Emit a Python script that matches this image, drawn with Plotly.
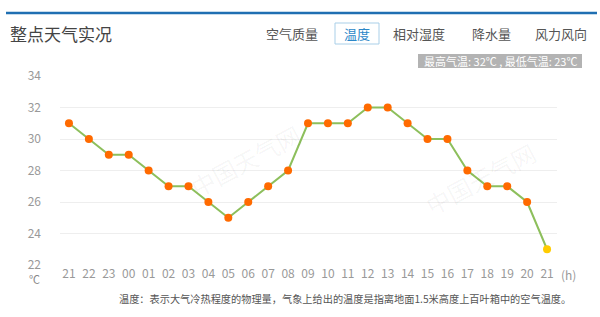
import plotly.graph_objects as go

hours = ["21", "22", "23", "00", "01", "02", "03", "04", "05", "06", "07", "08",
         "09", "10", "11", "12", "13", "14", "15", "16", "17", "18", "19", "20", "21"]
temps = [31, 30, 29, 29, 28, 27, 27, 26, 25, 26, 27, 28,
         31, 31, 31, 32, 32, 31, 30, 30, 28, 27, 27, 26, 23]
y_ticks = [22, 24, 26, 28, 30, 32, 34]
tabs = ["空气质量", "温度", "相对湿度", "降水量", "风力风向"]
title_text = "整点天气实况"
summary_text = "最高气温: 32℃ , 最低气温: 23℃"
note_text = "温度：表示大气冷热程度的物理量，气象上给出的温度是指离地面1.5米高度上百叶箱中的空气温度。"

W, H = 600, 317
L, R, T, B = 60, 557, 76, 265
FONT = "Noto Sans CJK SC"

def px(x):
    return (x - L) / (R - L)

def py(y):
    return (B - y) / (B - T)

xs = list(range(len(hours)))
colors = ["#ff6a00"] * (len(temps) - 1) + ["#ffcc00"]

fig = go.Figure()
fig.add_trace(go.Scatter(
    x=xs, y=temps, mode="lines+markers",
    line=dict(color="#8dbf5c", width=2),
    marker=dict(color=colors, size=8, line=dict(width=0)),
    hoverinfo="skip", showlegend=False,
))

annotations = []
# title
annotations.append(dict(x=px(8), y=py(33), xref="paper", yref="paper", text=title_text,
                        showarrow=False, xanchor="left", yanchor="middle",
                        font=dict(family=FONT, size=17, color="#444444")))
# tabs
tab_centers = [292, 357, 419, 491, 561]
for t, cx in zip(tabs, tab_centers):
    annotations.append(dict(x=px(cx), y=py(33.5), xref="paper", yref="paper", text=t,
                            showarrow=False, xanchor="center", yanchor="middle",
                            font=dict(family=FONT, size=13,
                                      color="#2b87c8" if t == "温度" else "#555555")))
# summary
annotations.append(dict(x=px(500), y=py(61), xref="paper", yref="paper", text=summary_text,
                        showarrow=False, xanchor="center", yanchor="middle",
                        font=dict(family=FONT, size=11, color="#ffffff")))
# unit labels
annotations.append(dict(x=px(34), y=py(279), xref="paper", yref="paper", text="℃",
                        showarrow=False, xanchor="center", yanchor="middle",
                        font=dict(family=FONT, size=11, color="#888888")))
annotations.append(dict(x=px(568), y=py(274), xref="paper", yref="paper", text="(h)",
                        showarrow=False, xanchor="center", yanchor="middle",
                        font=dict(family=FONT, size=12, color="#999999")))
# note
annotations.append(dict(x=px(117), y=py(298), xref="paper", yref="paper", text=note_text,
                        showarrow=False, xanchor="left", yanchor="middle",
                        font=dict(family=FONT, size=10.2, color="#555555")))
# watermarks
for wx, wy in [(245, 160), (480, 178)]:
    annotations.append(dict(x=px(wx), y=py(wy), xref="paper", yref="paper", text="中国天气网",
                            showarrow=False, textangle=-28, xanchor="center", yanchor="middle",
                            font=dict(family=FONT, size=24, color="rgba(0,0,0,0.045)")))

shapes = [
    dict(type="line", xref="paper", yref="paper", x0=px(6), x1=px(597), y0=py(13), y1=py(13),
         line=dict(color="#1f6fb2", width=2.5)),
    dict(type="rect", xref="paper", yref="paper", x0=px(335), x1=px(379), y0=py(23), y1=py(44),
         line=dict(color="#a9cfe8", width=1), fillcolor="rgba(0,0,0,0)"),
    dict(type="rect", xref="paper", yref="paper", x0=px(418), x1=px(582), y0=py(54), y1=py(68),
         line=dict(width=0), fillcolor="#b3b3b3", layer="below"),
]

fig.update_layout(
    width=W, height=H,
    margin=dict(l=L, r=W - R, t=T, b=H - B),
    paper_bgcolor="#ffffff", plot_bgcolor="#ffffff",
    annotations=annotations, shapes=shapes,
    xaxis=dict(range=[-0.45, 24.5], tickmode="array", tickvals=xs, ticktext=hours,
               showgrid=False, zeroline=False, showline=False, ticks="",
               tickfont=dict(family=FONT, size=12, color="#999999"), fixedrange=True),
    yaxis=dict(range=[22, 34], tickmode="array", tickvals=y_ticks,
               showgrid=True, gridcolor="#eeeeee", gridwidth=1, zeroline=False,
               showline=False, ticks="", ticklabelstandoff=18,
               tickfont=dict(family=FONT, size=12, color="#999999"), fixedrange=True),
)

fig.write_html("out.html", config={"displayModeBar": False})
